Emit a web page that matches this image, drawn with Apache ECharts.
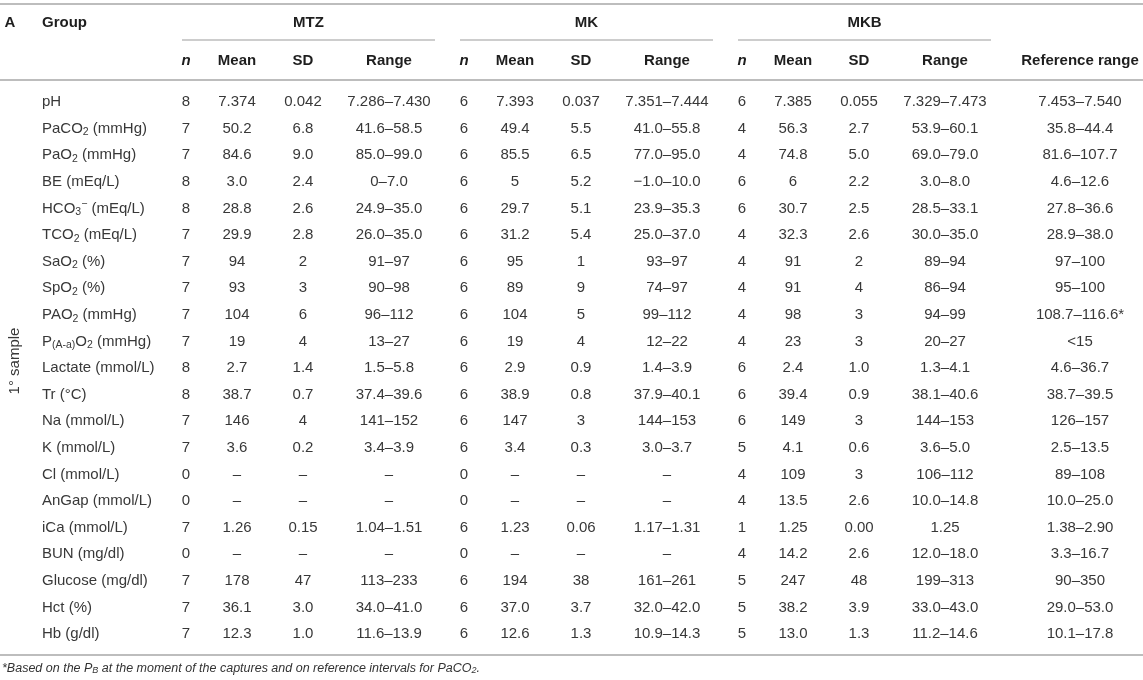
<!DOCTYPE html>
<html>
<head>
<meta charset="utf-8">
<script src="https://cdn.jsdelivr.net/npm/echarts@6.0.0/dist/echarts.min.js"></script>
<style>
  html, body { margin: 0; padding: 0; background: #fff; }
  #chart { width: 1143px; height: 680px; }
</style>
</head>
<body>
<div id="chart"></div>
<script>
// ── Table data ───────────────────────────────────────────
const groups = ['MTZ', 'MK', 'MKB'];
const subHeaders = ['n', 'Mean', 'SD', 'Range'];
const sectionLabel = '1° sample';

// row labels; {sub|..}/{sup|..} are rich-text subscripts/superscripts
const params = [
    'pH', 'PaCO{sub|2} (mmHg)', 'PaO{sub|2} (mmHg)', 'BE (mEq/L)', 'HCO{sub|3}{sup|−} (mEq/L)',
    'TCO{sub|2} (mEq/L)', 'SaO{sub|2} (%)', 'SpO{sub|2} (%)', 'PAO{sub|2} (mmHg)',
    'P{sub|(A-a)}O{sub|2} (mmHg)', 'Lactate (mmol/L)', 'Tr (°C)', 'Na (mmol/L)', 'K (mmol/L)',
    'Cl (mmol/L)', 'AnGap (mmol/L)', 'iCa (mmol/L)', 'BUN (mg/dl)', 'Glucose (mg/dl)',
    'Hct (%)', 'Hb (g/dl)'
];

const mtzN     = ['8', '7', '7', '8', '8', '7', '7', '7', '7', '7', '8', '8', '7', '7', '0', '0', '7', '0', '7', '7', '7'];
const mtzMean  = ['7.374', '50.2', '84.6', '3.0', '28.8', '29.9', '94', '93', '104', '19', '2.7', '38.7', '146', '3.6', '–', '–', '1.26', '–', '178', '36.1', '12.3'];
const mtzSD    = ['0.042', '6.8', '9.0', '2.4', '2.6', '2.8', '2', '3', '6', '4', '1.4', '0.7', '4', '0.2', '–', '–', '0.15', '–', '47', '3.0', '1.0'];
const mtzRange = ['7.286–7.430', '41.6–58.5', '85.0–99.0', '0–7.0', '24.9–35.0', '26.0–35.0', '91–97', '90–98', '96–112', '13–27', '1.5–5.8', '37.4–39.6', '141–152', '3.4–3.9', '–', '–', '1.04–1.51', '–', '113–233', '34.0–41.0', '11.6–13.9'];

const mkN     = ['6', '6', '6', '6', '6', '6', '6', '6', '6', '6', '6', '6', '6', '6', '0', '0', '6', '0', '6', '6', '6'];
const mkMean  = ['7.393', '49.4', '85.5', '5', '29.7', '31.2', '95', '89', '104', '19', '2.9', '38.9', '147', '3.4', '–', '–', '1.23', '–', '194', '37.0', '12.6'];
const mkSD    = ['0.037', '5.5', '6.5', '5.2', '5.1', '5.4', '1', '9', '5', '4', '0.9', '0.8', '3', '0.3', '–', '–', '0.06', '–', '38', '3.7', '1.3'];
const mkRange = ['7.351–7.444', '41.0–55.8', '77.0–95.0', '−1.0–10.0', '23.9–35.3', '25.0–37.0', '93–97', '74–97', '99–112', '12–22', '1.4–3.9', '37.9–40.1', '144–153', '3.0–3.7', '–', '–', '1.17–1.31', '–', '161–261', '32.0–42.0', '10.9–14.3'];

const mkbN     = ['6', '4', '4', '6', '6', '4', '4', '4', '4', '4', '6', '6', '6', '5', '4', '4', '1', '4', '5', '5', '5'];
const mkbMean  = ['7.385', '56.3', '74.8', '6', '30.7', '32.3', '91', '91', '98', '23', '2.4', '39.4', '149', '4.1', '109', '13.5', '1.25', '14.2', '247', '38.2', '13.0'];
const mkbSD    = ['0.055', '2.7', '5.0', '2.2', '2.5', '2.6', '2', '4', '3', '3', '1.0', '0.9', '3', '0.6', '3', '2.6', '0.00', '2.6', '48', '3.9', '1.3'];
const mkbRange = ['7.329–7.473', '53.9–60.1', '69.0–79.0', '3.0–8.0', '28.5–33.1', '30.0–35.0', '89–94', '86–94', '94–99', '20–27', '1.3–4.1', '38.1–40.6', '144–153', '3.6–5.0', '106–112', '10.0–14.8', '1.25', '12.0–18.0', '199–313', '33.0–43.0', '11.2–14.6'];

const refRange = ['7.453–7.540', '35.8–44.4', '81.6–107.7', '4.6–12.6', '27.8–36.6', '28.9–38.0', '97–100', '95–100', '108.7–116.6*', '<15', '4.6–36.7', '38.7–39.5', '126–157', '2.5–13.5', '89–108', '10.0–25.0', '1.38–2.90', '3.3–16.7', '90–350', '29.0–53.0', '10.1–17.8'];

const footnote = '*Based on the P{sub|B} at the moment of the captures and on reference intervals for PaCO{sub|2}.';

// ── Layout (x axis runs in page pixels) ──────────────────
const W = 1143;
const groupLeft = [182, 460, 738];     // left end of each group's rule
const groupWidth = 253;
const subOffset = [4, 55, 121, 207];   // n / Mean / SD / Range centres
const letterX = 10, labelX = 42, refX = 1080, sectionX = 15;

const FONT = '"Liberation Sans", Arial, sans-serif';
const TEXT = '#383838';
const bodyStyle = { fontFamily: FONT, fontSize: 15, fill: TEXT };
const headStyle = { fontFamily: FONT, fontSize: 15, fontWeight: 'bold', fill: '#1e1e1e' };
const RULE = '#bdbdbd';

// ── Cells ────────────────────────────────────────────────
const groupCols = [
    [mtzN, mtzMean, mtzSD, mtzRange],
    [mkN, mkMean, mkSD, mkRange],
    [mkbN, mkbMean, mkbSD, mkbRange]
];

const bodyCells = [];
params.forEach((_, r) => {
    groupCols.forEach((cols, g) => cols.forEach((col, k) => {
        bodyCells.push({ value: [groupLeft[g] + subOffset[k], r], text: col[r] });
    }));
    bodyCells.push({ value: [refX, r], text: refRange[r] });
});
// vertical section label, centred on the middle row of the body
bodyCells.push({
    value: [sectionX, Math.floor(params.length / 2)], text: sectionLabel,
    rotation: Math.PI / 2, dy: -7
});

const headCells = [
    { value: [letterX, 0], text: 'A' },
    { value: [labelX, 0], text: 'Group', align: 'left' }
];
groups.forEach((name, g) => {
    headCells.push({ value: [groupLeft[g] + groupWidth / 2, 0], text: name });
    subHeaders.forEach((s, k) => {
        headCells.push({
            value: [groupLeft[g] + subOffset[k], 1], text: s,
            style: s === 'n' ? { fontStyle: 'italic' } : null
        });
    });
});
headCells.push({ value: [refX, 1], text: 'Reference range' });

function textRenderer(cells, base) {
    return (params, api) => {
        const c = cells[params.dataIndex];
        const p = api.coord([api.value(0), api.value(1)]);
        return {
            type: 'text', x: p[0], y: p[1] + (c.dy || 0), rotation: c.rotation || 0,
            style: Object.assign({ text: c.text, align: c.align || 'center', verticalAlign: 'middle' }, base, c.style || {})
        };
    };
}

const chart = echarts.init(document.getElementById('chart'), null, { renderer: 'canvas' });

const xBase = { type: 'value', min: 0, max: W, axisLabel: { show: false }, axisTick: { show: false }, splitLine: { show: false } };
const ruleLine = { show: true, onZero: false, lineStyle: { color: RULE, width: 2 } };
const subStyle = { fontFamily: FONT, fontSize: 10.5, color: TEXT, lineHeight: 10 };

chart.setOption({
    animation: false,
    backgroundColor: '#fff',
    title: {
        text: footnote, left: 2, top: 662, padding: 0,
        textStyle: {
            fontFamily: FONT, fontSize: 12.5, fontStyle: 'italic', fontWeight: 'normal', color: '#333',
            rich: { sub: { fontFamily: FONT, fontSize: 9, fontStyle: 'italic', color: '#333', verticalAlign: 'bottom', lineHeight: 9 } }
        }
    },
    grid: [
        { left: 0, right: 0, top: 4, height: 76, outerBoundsMode: 'none' },
        { left: 0, right: 0, top: 88.7, height: 558.6, outerBoundsMode: 'none' }
    ],
    xAxis: [
        Object.assign({ gridIndex: 0, position: 'top', axisLine: ruleLine }, xBase),
        Object.assign({ gridIndex: 0, position: 'bottom', axisLine: ruleLine }, xBase),
        Object.assign({ gridIndex: 1, position: 'bottom', offset: 7, axisLine: ruleLine }, xBase)
    ],
    yAxis: [
        {
            gridIndex: 0, type: 'category', inverse: true, data: ['group', 'sub'],
            axisLine: { show: false }, axisTick: { show: false }, axisLabel: { show: false }
        },
        {
            gridIndex: 1, type: 'category', inverse: true, data: params,
            axisLine: { show: false }, axisTick: { show: false }, splitLine: { show: false },
            axisLabel: {
                inside: true, margin: labelX, interval: 0, align: 'left',
                fontFamily: FONT, fontSize: 15, color: TEXT, lineHeight: 19,
                formatter: v => v,
                rich: {
                    sub: Object.assign({ verticalAlign: 'bottom' }, subStyle),
                    sup: Object.assign({ verticalAlign: 'top' }, subStyle)
                }
            }
        }
    ],
    series: [
        {
            type: 'custom', name: 'header', xAxisIndex: 0, yAxisIndex: 0,
            data: headCells.map(c => c.value),
            renderItem: textRenderer(headCells, headStyle)
        },
        {
            // short rules under MTZ / MK / MKB
            type: 'custom', name: 'groupRules', xAxisIndex: 0, yAxisIndex: 0,
            data: groupLeft.map(x => [x, x + groupWidth]),
            renderItem: (params, api) => {
                const a = api.coord([api.value(0), 0]);
                const b = api.coord([api.value(1), 1]);
                const y = (a[1] + b[1]) / 2 - 2;
                return { type: 'line', shape: { x1: a[0], y1: y, x2: b[0], y2: y }, style: { stroke: RULE, lineWidth: 1.5 } };
            }
        },
        {
            type: 'custom', name: 'body', xAxisIndex: 2, yAxisIndex: 1,
            data: bodyCells.map(c => c.value),
            renderItem: textRenderer(bodyCells, bodyStyle)
        }
    ]
});
</script>
</body>
</html>
